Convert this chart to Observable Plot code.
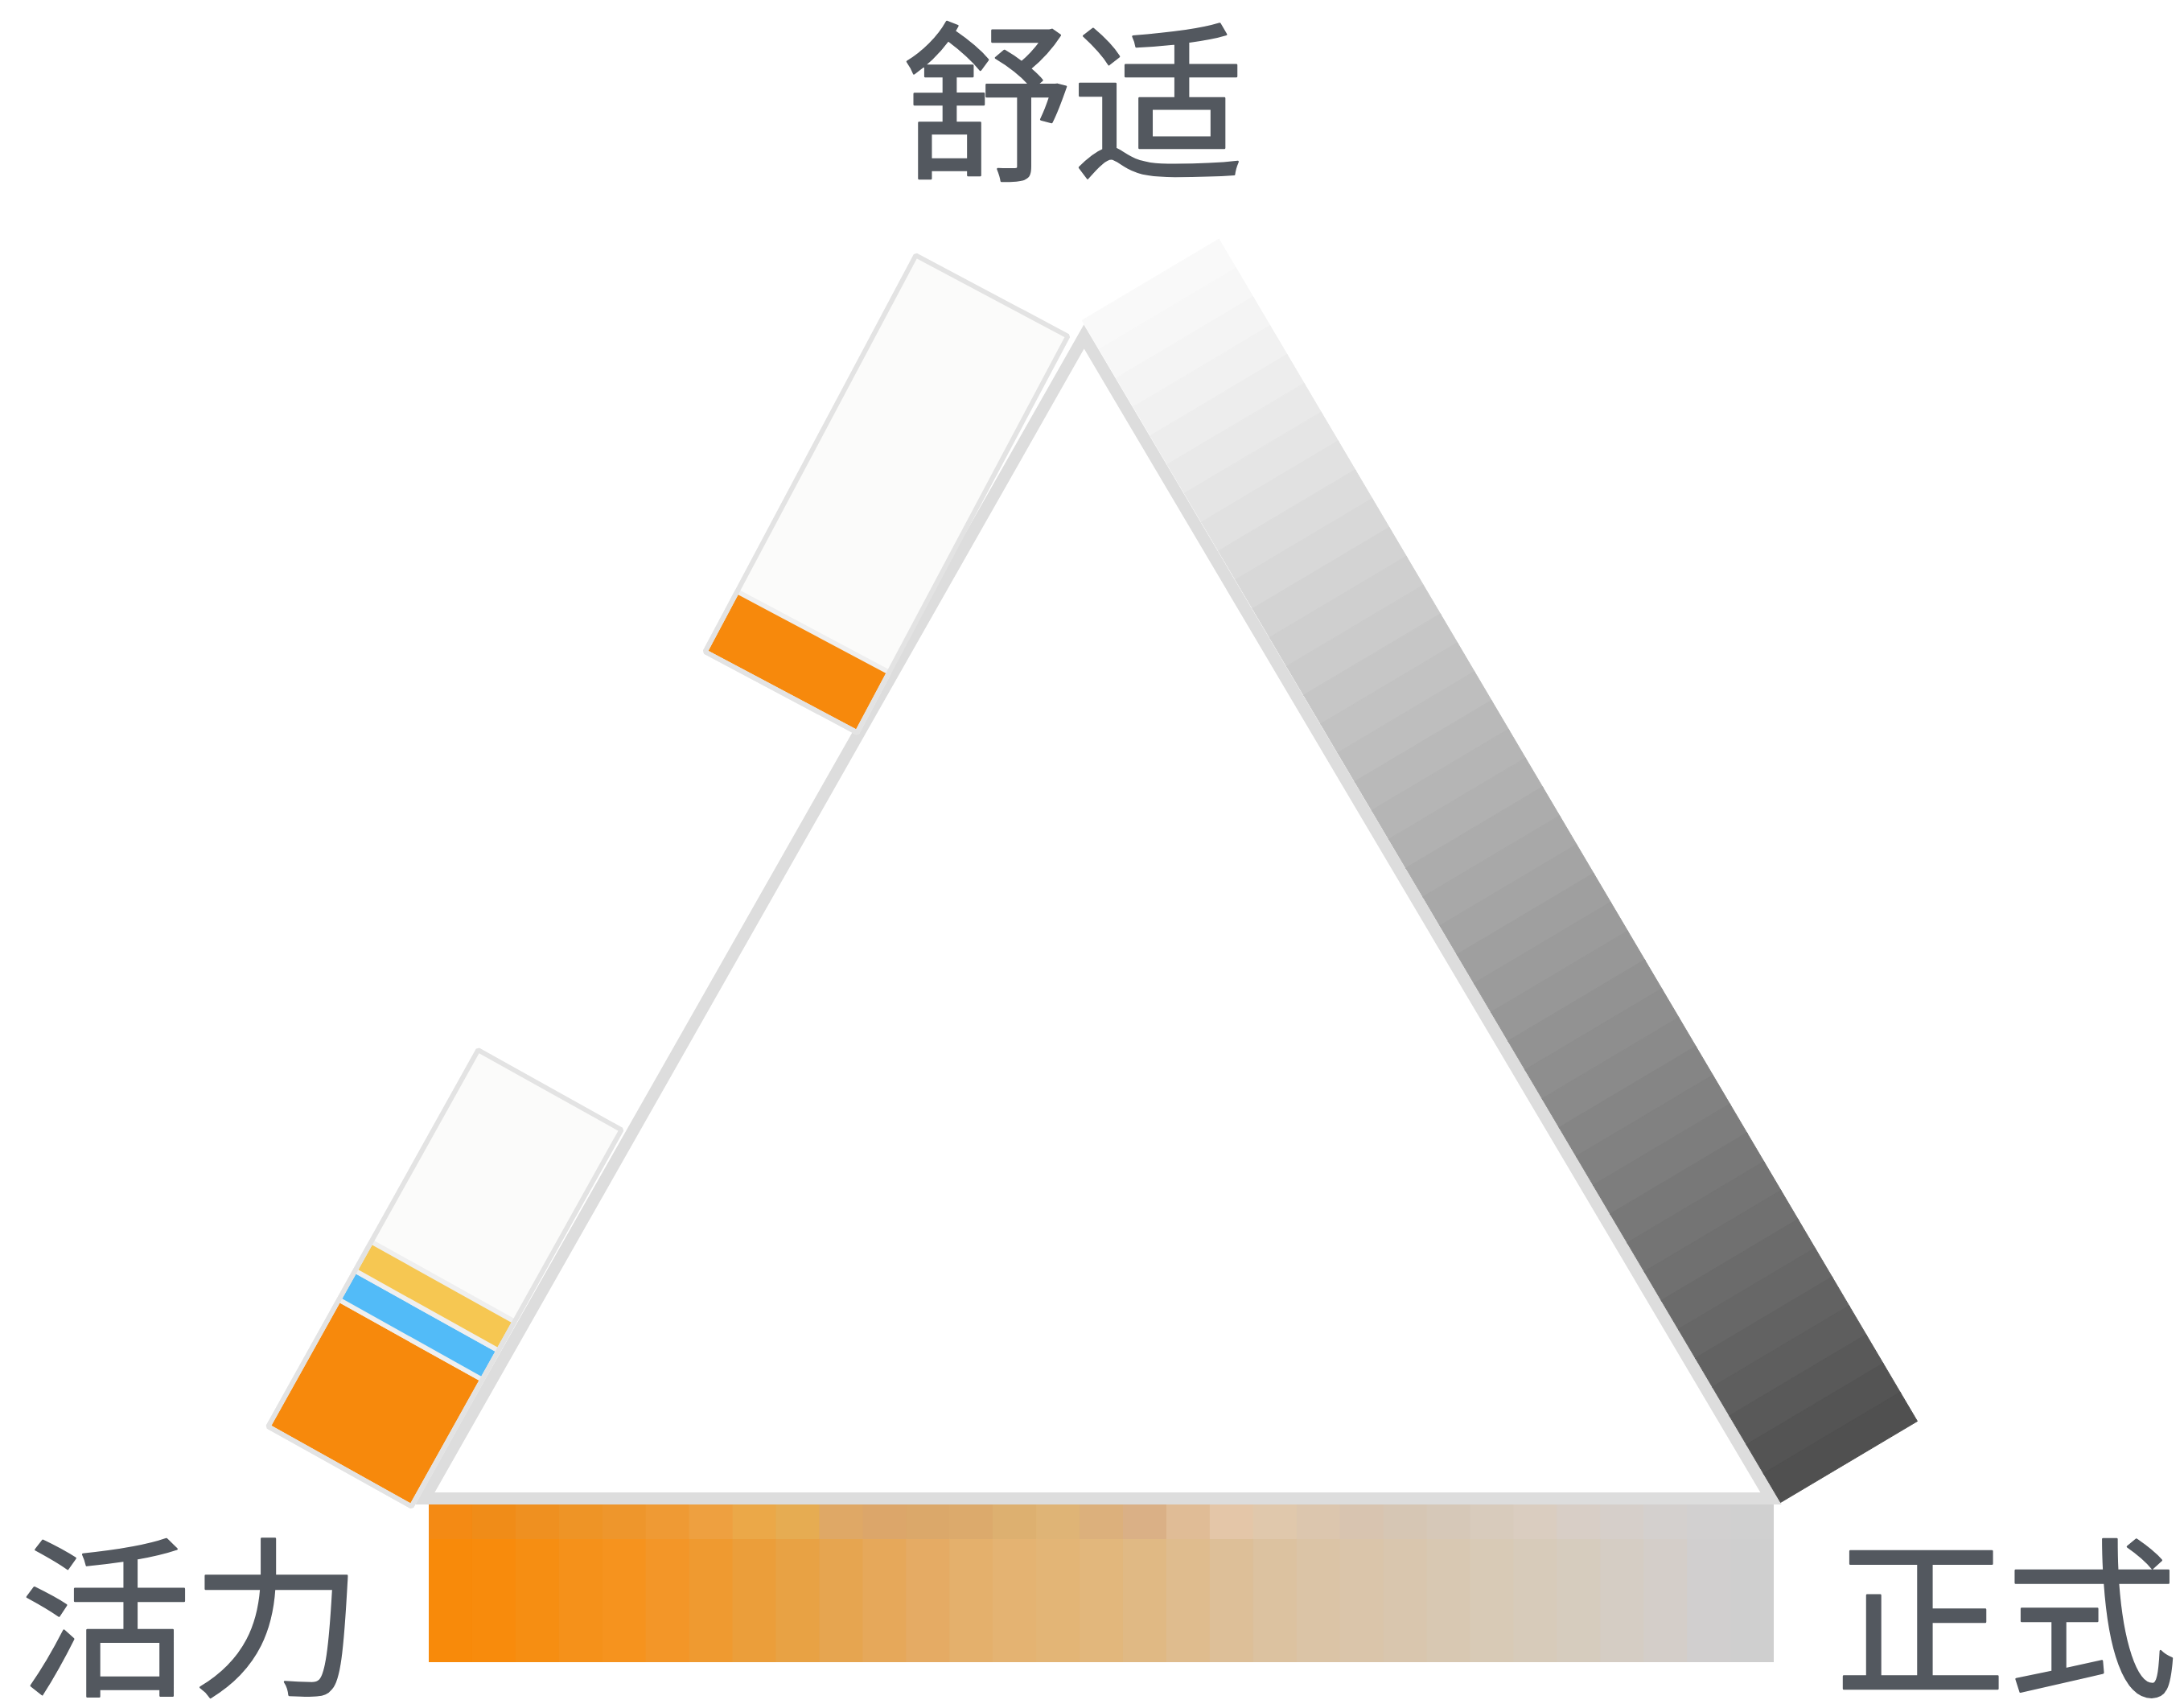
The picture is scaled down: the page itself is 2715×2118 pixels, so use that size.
<!DOCTYPE html>
<html><head><meta charset="utf-8">
<script src="https://cdn.jsdelivr.net/npm/d3@7"></script>
<script src="https://cdn.jsdelivr.net/npm/@observablehq/plot@0.6"></script>
<style>
@font-face {
  font-family: "TightCJK";
  src: local("Noto Sans CJK SC Regular"), local("Noto Sans CJK SC"), local("NotoSansCJKsc-Regular"), local("Noto Sans CJK JP Regular"), local("NotoSansCJKjp-Regular");
  font-weight: 400;
  ascent-override: 90%;
  descent-override: 10%;
  line-gap-override: 0%;
}
html,body{margin:0;padding:0;background:#fff;}
</style>
</head><body><div id="chart"></div>
<script>
// ---------------- data ----------------
const vertexLabels = ["舒适", "活力", "正式"];

// stacked shares on the left-edge bars (from the bottom up)
const comfortShares = [0.152];
const comfortColors = ["#f7890c"];
const vitalityShares = [0.337, 0.077, 0.077];
const vitalityColors = ["#f7890c", "#52bbf8", "#f6c752"];

// right band: gray levels from the top (舒适) down to 正式
const formalGrays = [249, 247, 244, 241, 237, 233, 229, 225, 220, 216, 211, 207, 203, 198,
                     194, 190, 185, 181, 177, 172, 168, 164, 159, 155, 151, 146, 142, 138,
                     133, 129, 125, 120, 116, 112, 107, 103, 98, 94, 89, 84, 80];

// bottom band: column colours from 活力 (left) to 正式 (right)
const baseColors = ["#f88a0a", "#f88b0c", "#f68e12", "#f5911a", "#f6931e", "#f39628", "#ef9a30",
  "#eb9e3a", "#e8a244", "#e6a550", "#e6a85a", "#e5ab64", "#e4b06c", "#e4b372", "#e3b576",
  "#e2b77c", "#e0b984", "#dfbc8e", "#ddbf98", "#dcc2a0", "#dbc4a6", "#dac5aa", "#d9c6ae",
  "#d8c8b2", "#d8cab6", "#d7cbba", "#d6ccbe", "#d5cdc4", "#d4cec9", "#d1cfcf", "#cfcfcf"];
const baseTopColors = ["#f48a14", "#f08c18", "#ef9020", "#ee9426", "#ee962c", "#ef9a34", "#eea040",
  "#eba848", "#e6ac52", "#dfa866", "#dca66a", "#dba86a", "#dcaa6c", "#ddb070", "#dfb476",
  "#dcb07c", "#dab086", "#e0bc96", "#e4c6a8", "#e0c8ac", "#dcc6ae", "#d8c4b0", "#d6c6b4",
  "#d6c8b8", "#d8cbbc", "#dacdc0", "#d8cec6", "#d6cfca", "#d4d0ce", "#d2d0d0", "#d0d0d0"];

// ---------------- layout ----------------
const W = 2715, H = 2118;
const apex = {x: 1347, y: 418}, leftV = {x: 527, y: 1862}, rightV = {x: 2201, y: 1862};

// left-edge bars
function stackedBar(name, origin, angleDeg, len, wid, shares, colors) {
  const a = angleDeg * Math.PI / 180;
  const u = [Math.cos(a), -Math.sin(a)];
  const v = [-Math.sin(a), -Math.cos(a)];
  const P = (s, w) => [origin[0] + s * u[0] + w * v[0], origin[1] + s * u[1] + w * v[1]];
  const frame = [P(0, 0), P(len, 0), P(len, wid), P(0, wid)];
  const out = {frame, segs: []};
  let acc = 0;
  shares.forEach((sh, i) => {
    const s0 = acc * len, s1 = (acc + sh) * len;
    out.segs.push({id: name + i, pts: [P(s0, 0), P(s1, 0), P(s1, wid), P(s0, wid)], fill: colors[i]});
    acc += sh;
  });
  return out;
}
const upperBar = stackedBar("comfort", [1065, 910], 62.0, 558, 214, comfortShares, comfortColors);
const lowerBar = stackedBar("vitality", [511, 1872], 60.85, 536, 204, vitalityShares, vitalityColors);

const barFills = [], barSegs = [];
[upperBar, lowerBar].forEach((b, k) => {
  b.frame.forEach(([x, y]) => barFills.push({id: "f" + k, x, y}));
  b.segs.forEach(s => s.pts.forEach(([x, y]) => barSegs.push({id: s.id, x, y, fill: s.fill})));
});

// right band
const band0 = [1345, 398], band1 = [2213, 1867], bandOff = [170, -101];
const bandCells = [];
formalGrays.forEach((g, i) => {
  const n = formalGrays.length;
  const t0 = i / n, t1 = Math.min(1, (i + 1.02) / n);
  const p = t => [band0[0] + t * (band1[0] - band0[0]), band0[1] + t * (band1[1] - band0[1])];
  const A = p(t0), B = p(t1);
  const c = `rgb(${g},${g},${g})`;
  [A, B, [B[0] + bandOff[0], B[1] + bandOff[1]], [A[0] + bandOff[0], A[1] + bandOff[1]]]
    .forEach(([x, y]) => bandCells.push({id: "g" + i, x, y, fill: c}));
});

// bottom band
const baseX0 = 533, baseX1 = 2205, baseY0 = 1870, baseY1 = 2066, baseTopY = 1912;
const colW = (baseX1 - baseX0) / baseColors.length;
const baseCells = [];
baseColors.forEach((c, i) => {
  const x1 = baseX0 + i * colW, x2 = Math.min(baseX1, x1 + colW + 1);
  baseCells.push({x1, x2, y1: baseTopY, y2: baseY1, fill: c});
  baseCells.push({x1, x2, y1: baseY0, y2: baseTopY + 1, fill: baseTopColors[i]});
});

// triangle
const tri = [apex, leftV, rightV].map(p => ({x: p.x, y: p.y}));

// labels anchored to the vertices
const labelRows = [
  {text: vertexLabels[0], x: apex.x - 14, y: apex.y - 280},
  {text: vertexLabels[1], x: leftV.x - 290, y: leftV.y + 160},
  {text: vertexLabels[2], x: rightV.x + 292, y: rightV.y + 160}
];

const chart = Plot.plot({
  width: W, height: H, margin: 0,
  x: {domain: [0, W], range: [0, W], axis: null},
  y: {domain: [0, H], range: [0, H], axis: null},
  color: {type: "identity"},
  style: {background: "white", overflow: "visible"},
  marks: [
    Plot.line(tri, {x: "x", y: "y", curve: "linear-closed", fill: "white", stroke: "#dddddd",
      strokeWidth: 15, strokeLinejoin: "miter", strokeMiterlimit: 10}),
    Plot.line(bandCells, {x: "x", y: "y", z: "id", curve: "linear-closed", fill: "fill", stroke: "fill", strokeWidth: 1}),
    Plot.rect(baseCells, {x1: "x1", x2: "x2", y1: "y1", y2: "y2", fill: "fill"}),
    Plot.line(barFills, {x: "x", y: "y", z: "id", curve: "linear-closed", fill: "#fbfbfa", stroke: "none"}),
    Plot.line(barSegs, {x: "x", y: "y", z: "id", curve: "linear-closed", fill: "fill", stroke: "#efefef", strokeWidth: 6, strokeLinejoin: "miter"}),
    Plot.line(barFills, {x: "x", y: "y", z: "id", curve: "linear-closed", fill: "none", stroke: "#e3e3e3", strokeWidth: 6, strokeLinejoin: "miter"}),
    Plot.text(labelRows, {x: "x", y: "y", text: "text", fontSize: 213, fill: "#53585f",
      stroke: "#53585f", strokeWidth: 2.5,
      fontFamily: "TightCJK, 'Noto Sans CJK SC'", textAnchor: "middle", lineAnchor: "middle"})
  ]
});
document.getElementById("chart").appendChild(chart);
</script>
</body></html>
